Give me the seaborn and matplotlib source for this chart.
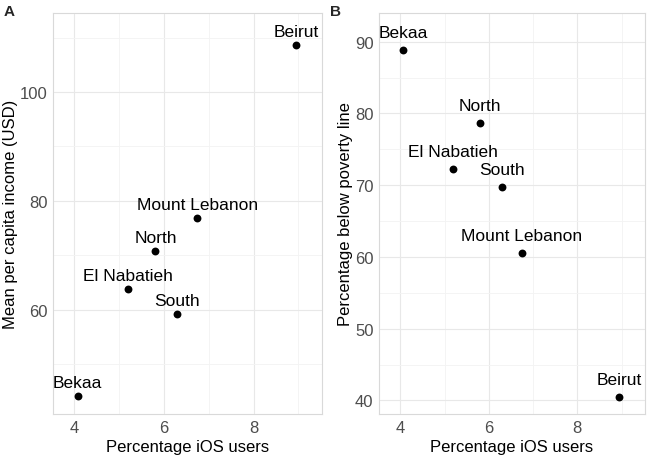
import matplotlib
matplotlib.use("Agg")
import matplotlib.pyplot as plt
from matplotlib.ticker import MultipleLocator
import seaborn as sns
import pandas as pd

regions = ["Beirut", "Mount Lebanon", "North", "El Nabatieh", "South", "Bekaa"]
ios_pct = [8.95, 6.74, 5.81, 5.20, 6.29, 4.07]
income_usd = [108.6, 76.9, 70.8, 63.9, 59.3, 44.2]
poverty_pct = [40.5, 60.5, 78.7, 72.3, 69.7, 88.9]

df = pd.DataFrame({"region": regions, "ios": ios_pct,
                   "income": income_usd, "poverty": poverty_pct})

sns.set_theme(style="white")
plt.rcParams["font.family"] = ["Liberation Sans", "DejaVu Sans"]

fig = plt.figure(figsize=(6.49, 4.56), dpi=100)
W, H = 649, 456
def add_ax(l, r, t, b):
    return fig.add_axes([l / W, (H - b) / H, (r - l) / W, (b - t) / H])

axA = add_ax(53, 322, 14, 415)
axB = add_ax(379, 645, 14, 415)

def style(ax, ycol, ylabel, ylim, ymaj, ymin):
    sns.scatterplot(data=df, x="ios", y=ycol, ax=ax, color="black", s=32,
                    edgecolor="black", linewidth=0, zorder=3)
    for _, row in df.iterrows():
        ax.text(row["ios"], row[ycol] + 2.45, row["region"], ha="center",
                va="center", fontsize=12.5, color="black", zorder=4)
    ax.set_xlim(3.52, 9.53)
    ax.set_ylim(*ylim)
    ax.xaxis.set_major_locator(MultipleLocator(2))
    ax.xaxis.set_minor_locator(MultipleLocator(1))
    ax.yaxis.set_major_locator(MultipleLocator(ymaj))
    ax.yaxis.set_minor_locator(MultipleLocator(ymin))
    ax.grid(which="major", color="#E8E8E8", linewidth=0.8)
    ax.grid(which="minor", color="#F3F3F3", linewidth=0.6)
    ax.set_axisbelow(True)
    for sp in ax.spines.values():
        sp.set_color("#D9D9D9")
        sp.set_linewidth(0.8)
    ax.tick_params(which="both", length=0, labelsize=12, labelcolor="#4D4D4D", pad=4)
    ax.set_xlabel("Percentage iOS users", fontsize=12, color="black", labelpad=3)
    ax.set_ylabel(ylabel, fontsize=12, color="black", labelpad=1.5)

style(axA, "income", "Mean per capita income (USD)", (40.9, 114.5), 20, 10)
style(axB, "poverty", "Percentage below poverty line", (38.1, 94.0), 10, 5)

fig.text(4 / W, 1 - 12 / H, "A", fontsize=11, fontweight="bold", ha="left", va="center")
fig.text(330 / W, 1 - 12 / H, "B", fontsize=11, fontweight="bold", ha="left", va="center")

fig.savefig("out.png", dpi=100)
